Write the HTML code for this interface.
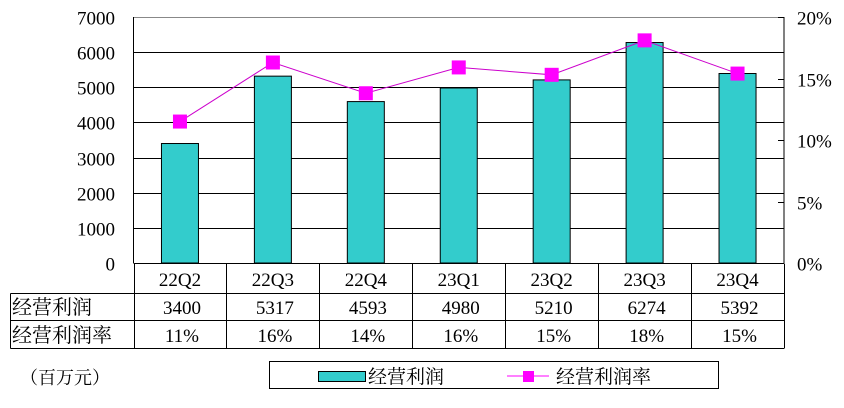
<!DOCTYPE html>
<html><head><meta charset="utf-8"><style>
body{margin:0;background:#fff;}
svg{display:block;font-family:"Liberation Serif","Noto Serif CJK SC",serif;}
</style></head><body>
<svg width="844" height="408" viewBox="0 0 844 408">
<g id="grid"></g>
<g id="bars"></g>
<g id="line"></g>
<g id="axes"></g>
<g id="table"></g>
<text x="20" y="384" font-size="18">（百万元）</text>
<g>
<rect x="269.5" y="361.5" width="449" height="27" fill="#fff" stroke="#000"/>
<g>
<rect x="318.5" y="371.5" width="47" height="10" fill="#33CCCC" stroke="#000"/>
<text x="368" y="383" font-size="19">经营利润</text></g>
<g>
<line x1="507" y1="376" x2="549" y2="376" stroke="#FF00FF" stroke-width="1"/>
<rect x="523" y="371" width="11" height="11" fill="#FF00FF"/>
<text x="556" y="383" font-size="19">经营利润率</text></g>
</g>
</svg>
<script>
const categories=["22Q2","22Q3","22Q4","23Q1","23Q2","23Q3","23Q4"];
const profit=[3400,5317,4593,4980,5210,6274,5392];
const margin=[11.5,16.3,13.8,15.9,15.3,18.1,15.4];
const profitLabels=["3400","5317","4593","4980","5210","6274","5392"];
const marginLabels=["11%","16%","14%","16%","15%","18%","15%"];
const leftTicks=[0,1000,2000,3000,4000,5000,6000,7000];
const rightTicks=[0,5,10,15,20];

const NS="http://www.w3.org/2000/svg";
const L=133.5,R=784,T=17,B=263,leftMax=7000,rightMax=20;
const cw=(R-L)/categories.length;
const yL=v=>B-(v/leftMax)*(B-T);
const yR=v=>B-(v/rightMax)*(B-T);
const xC=i=>L+cw*(i+0.5);
function mk(tag,attrs,parent,txt){const e=document.createElementNS(NS,tag);for(const k in attrs)e.setAttribute(k,attrs[k]);if(txt!==undefined)e.textContent=txt;parent.appendChild(e);return e;}
const grid=document.getElementById('grid'),bars=document.getElementById('bars'),line=document.getElementById('line'),axes=document.getElementById('axes'),table=document.getElementById('table');

leftTicks.forEach(v=>{
  const y=Math.round(yL(v))+0.5;
  if(v>0){const g=mk('line',{x1:L,x2:R,y1:y,y2:y,stroke:v===leftMax?'#888':'#000','stroke-width':1},grid);
  
  }
  const t=mk('text',{x:115,y:y+7,'font-size':19,'text-anchor':'end'},axes,String(v));
  
  
});
rightTicks.forEach(v=>{
  const y=Math.round(yR(v))+0.5;
  mk('line',{x1:778,x2:R,y1:y,y2:y,stroke:'#000'},axes);
  const t=mk('text',{x:797,y:y+7,'font-size':19},axes,v+'%');
  
  
});
mk('line',{x1:L,x2:L,y1:T,y2:B,stroke:'#000'},axes);
mk('line',{x1:R,x2:R,y1:T,y2:B,stroke:'#000'},axes);

const bw=37;
profit.forEach((v,i)=>{
  const y=yL(v);
  const r=mk('rect',{x:xC(i)-bw/2,y:y,width:bw,height:B-y,fill:'#33CCCC',stroke:'#000','stroke-width':1},bars);
  
  
});
const pts=margin.map((v,i)=>xC(i)+','+yR(v)).join(' ');
mk('polyline',{points:pts,fill:'none',stroke:'#CC00CC','stroke-width':1},line);
margin.forEach((v,i)=>{
  const m=mk('rect',{x:xC(i)-7,y:yR(v)-7,width:14,height:14,fill:'#FF00FF'},line);
  
  
});

// table
const r1=263.5,r2=293.5,r3=320.5,r4=348.5,TL=10.5;
mk('line',{x1:L,x2:R,y1:r1,y2:r1,stroke:'#000'},table);
[r2,r3,r4].forEach(y=>mk('line',{x1:TL,x2:R,y1:y,y2:y,stroke:'#000'},table));
mk('line',{x1:TL,x2:TL,y1:r2,y2:r4,stroke:'#000'},table);
for(let i=0;i<=categories.length;i++){const x=Math.round(L+cw*i)+0.5;mk('line',{x1:x,x2:x,y1:r1,y2:r4,stroke:'#000'},table);}
categories.forEach((c,i)=>{
  const t=mk('text',{x:xC(i),y:286,'font-size':19,'text-anchor':'middle'},table,c);
  
  
  const a=mk('text',{x:xC(i)+2,y:314,'font-size':19,'text-anchor':'middle'},table,profitLabels[i]);
  
  
  const b=mk('text',{x:xC(i)+2,y:342,'font-size':19,'text-anchor':'middle'},table,marginLabels[i]);
  
  
});
const h1=mk('text',{x:12,y:314,'font-size':20},table,'经营利润');


const h2=mk('text',{x:12,y:342,'font-size':20},table,'经营利润率');


</script>
</body></html>
